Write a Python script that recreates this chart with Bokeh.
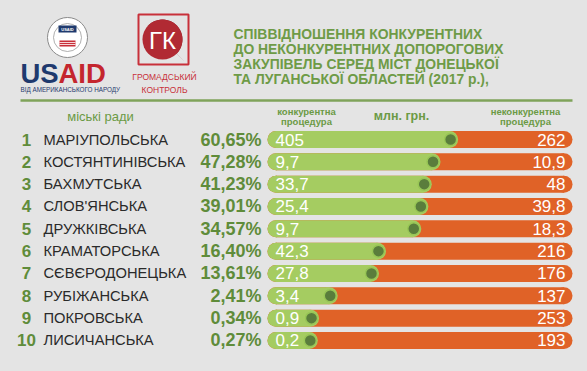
import numpy as np
from bokeh.plotting import figure
from bokeh.models import Range1d, ColumnDataSource, GlobalInlineStyleSheet
from bokeh.core.properties import value
from bokeh.embed import file_html
from bokeh.resources import INLINE

# ---------------- data ----------------
ranks = ["1", "2", "3", "4", "5", "6", "7", "8", "9", "10"]
cities = ["МАРІУПОЛЬСЬКА", "КОСТЯНТИНІВСЬКА", "БАХМУТСЬКА", "СЛОВ'ЯНСЬКА", "ДРУЖКІВСЬКА",
          "КРАМАТОРСЬКА", "СЄВЄРОДОНЕЦЬКА", "РУБІЖАНСЬКА", "ПОКРОВСЬКА", "ЛИСИЧАНСЬКА"]
share_pct = [60.65, 47.28, 41.23, 39.01, 34.57, 16.40, 13.61, 2.41, 0.34, 0.27]
share_labels = ["60,65%", "47,28%", "41,23%", "39,01%", "34,57%", "16,40%", "13,61%", "2,41%", "0,34%", "0,27%"]
competitive = ["405", "9,7", "33,7", "25,4", "9,7", "42,3", "27,8", "3,4", "0,9", "0,2"]
noncompetitive = ["262", "10,9", "48", "39,8", "18,3", "216", "176", "137", "253", "193"]
title_lines = ["СПІВВІДНОШЕННЯ КОНКУРЕНТНИХ", "ДО НЕКОНКУРЕНТНИХ ДОПОРОГОВИХ",
               "ЗАКУПІВЕЛЬ СЕРЕД МІСТ ДОНЕЦЬКОЇ", "ТА ЛУГАНСЬКОЇ ОБЛАСТЕЙ (2017 р.),"]

# ---------------- style / layout ----------------
BG = "#e4e4e4"
GREEN_T = "#5f8c3a"
TITLE_G = "#6e9b47"
BAR_G = "#a5cc61"
BAR_O = "#e06227"
DOT = "#5a7d3c"
RED = "#c8303a"
NAVY = "#1f3a6e"
FONT = "Liberation Sans"

W, H = 579, 363
p = figure(width=W, height=H, output_backend="svg", toolbar_location=None,
           x_range=Range1d(0, W), y_range=Range1d(H, 0),
           min_border=0, background_fill_color=BG, border_fill_color=BG)
p.axis.visible = False
p.grid.visible = False
p.outline_line_color = None
p.stylesheets = [GlobalInlineStyleSheet(css="body{background:%s;}" % BG)]

# rows
n = len(cities)
row_y0, row_step = 139.0, 22.33
ys = [row_y0 + i * row_step for i in range(n)]
bx0, bx1, bh = 267.0, 572.0, 17.0
r = bh / 2
# display scale of the share (compressed, with a minimum so labels fit)
frac = [0.132 + 0.633 * np.sqrt(s / 100.0) for s in share_pct]
gend = [bx0 + f * (bx1 - bx0) for f in frac]

src = ColumnDataSource(dict(
    y=ys, top=[y - r for y in ys], bot=[y + r for y in ys],
    rank=ranks, city=cities, share=share_labels, comp=competitive, nonc=noncompetitive,
    dotx=[g - 7.5 for g in gend],
    ox0=[bx0 + r] * n, ox1=[bx1 - r] * n,
    gl=[bx0 + r] * n, gr=[g - r for g in gend],
))

# orange full bar
p.quad(left="ox0", right="ox1", top="top", bottom="bot",
       source=src, fill_color=BAR_O, line_color=None)
p.circle(x="ox0", y="y", radius=r, source=src, fill_color=BAR_O, line_color=None)
p.circle(x="ox1", y="y", radius=r, source=src, fill_color=BAR_O, line_color=None)
# green part
p.quad(left="gl", right="gr", top="top", bottom="bot",
       source=src, fill_color=BAR_G, line_color=None)
p.circle(x="gl", y="y", radius=r, source=src, fill_color=BAR_G, line_color=None)
p.circle(x="gr", y="y", radius=r, source=src, fill_color=BAR_G, line_color=None)
# dots
p.scatter(x="dotx", y="y", size=12, source=src, fill_color=DOT, line_color="#98c656", line_width=1.5)

# row texts
p.text(x=26, y="y", text="rank", source=src, text_align="center", text_baseline="middle",
       text_font=value(FONT), text_font_size="17px", text_font_style="bold", text_color=GREEN_T)
p.text(x=43, y="y", text="city", source=src, text_align="left", text_baseline="middle",
       text_font=value(FONT), text_font_size="14.7px", text_color="#2a2a2a")
p.text(x=261, y="y", text="share", source=src, text_align="right", text_baseline="middle",
       text_font=value(FONT), text_font_size="18px", text_font_style="bold", text_color=GREEN_T)
p.text(x=275, y="y", text="comp", source=src, text_align="left", text_baseline="middle",
       text_font=value(FONT), text_font_size="17px", text_color="white")
p.text(x=565, y="y", text="nonc", source=src, text_align="right", text_baseline="middle",
       text_font=value(FONT), text_font_size="17px", text_color="white")

# header row
p.text(x=[100], y=[116], text=["міські ради"], text_align="center", text_baseline="middle",
       text_font=value(FONT), text_font_size="13px", text_color="#6b9a45")
p.text(x=[306, 306], y=[111, 121], text=["конкурентна", "процедура"], text_align="center",
       text_baseline="middle", text_font=value(FONT), text_font_size="9.5px",
       text_font_style="bold", text_color="#6b9a45")
p.text(x=[401], y=[115], text=["млн. грн."], text_align="center", text_baseline="middle",
       text_font=value(FONT), text_font_size="12.5px", text_font_style="bold", text_color="#6b9a45")
p.text(x=[525, 525], y=[111, 121], text=["неконкурентна", "процедура"], text_align="center",
       text_baseline="middle", text_font=value(FONT), text_font_size="9.5px",
       text_font_style="bold", text_color="#6b9a45")

# separator line
p.segment(x0=[20], y0=[100], x1=[572], y1=[100], line_color="#7fa35a", line_width=2.5)

# title
p.text(x=[233] * 4, y=[33, 48, 63, 78], text=title_lines, text_align="left", text_baseline="middle",
       text_font=value(FONT), text_font_size="13.9px", text_font_style="bold", text_color=TITLE_G)

# USAID logo
p.circle(x=[67], y=[37], radius=20, fill_color="white", line_color="#8a8a8a", line_width=1)
p.circle(x=[67], y=[37], radius=14, fill_color="white", line_color="#9a9a9a", line_width=0.8)
p.quad(left=[58], right=[76], top=[25], bottom=[32], fill_color=NAVY, line_color=None)
p.text(x=[67], y=[28.5], text=["USAID"], text_align="center", text_baseline="middle",
       text_font=value(FONT), text_font_size="4px", text_font_style="bold", text_color="white")
p.quad(left=[59], right=[75], top=[40], bottom=[46], fill_color="#c8303a", line_color=None)
p.segment(x0=[59, 59], y0=[42, 44], x1=[75, 75], y1=[42, 44], line_color="white", line_width=0.8)
p.text(x=[20, 58], y=[73, 73], text=["US", "AID"], text_align="left", text_baseline="middle",
       text_font=value(FONT), text_font_size="27.5px", text_font_style="bold",
       text_color=[NAVY, "#c4262e"])
p.text(x=[20], y=[89], text=["ВІД АМЕРИКАНСЬКОГО НАРОДУ"], text_align="left", text_baseline="middle",
       text_font=value(FONT), text_font_size="6.3px", text_color=NAVY)

# Громадський контроль logo
p.quad(left=[138], right=[188], top=[14], bottom=[64], fill_color=None, line_color=RED, line_width=2)
p.patch(x=[162 + 20 * np.cos(np.radians(a)) for a in range(-45, 136, 10)] + [184],
        y=[39 - 20 * np.sin(np.radians(a)) for a in range(-45, 136, 10)] + [61],
        fill_color="#8e2330", line_color=None)
p.circle(x=[162], y=[39], radius=20, fill_color="#b12a33", line_color=None)
p.text(x=[162], y=[40], text=["ГК"], text_align="center", text_baseline="middle",
       text_font=value(FONT), text_font_size="24px", text_color="white")
p.text(x=[164, 164], y=[76, 89], text=["ГРОМАДСЬКИЙ", "КОНТРОЛЬ"], text_align="center",
       text_baseline="middle", text_font=value(FONT), text_font_size="8.5px", text_color=RED)

open("out.html", "w").write(file_html(p, INLINE))
